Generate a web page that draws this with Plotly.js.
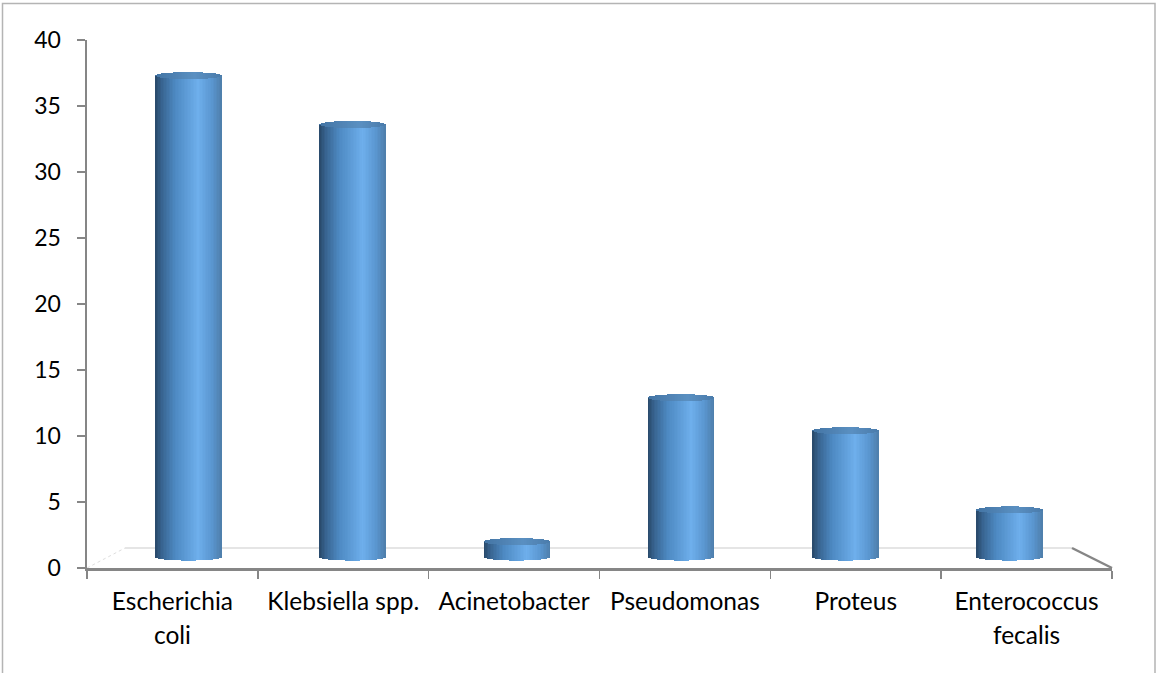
<!DOCTYPE html>
<html>
<head>
<meta charset="utf-8">
<script src="https://cdn.plot.ly/plotly-3.0.1.min.js"></script>
<style>html,body{margin:0;padding:0;background:#fff}#chart{width:1156px;height:673px}</style>
</head>
<body>
<div id="chart"></div>
<script>
// Isolate counts per organism
const categories = ["Escherichia<br>coli", "Klebsiella spp.", "Acinetobacter", "Pseudomonas", "Proteus", "Enterococcus<br>fecalis"];
const values = [37.3, 33.6, 2.0, 12.9, 10.4, 4.4];
const yTicks = [0, 5, 10, 15, 20, 25, 30, 35, 40];

// Category labels: the outer font size sets the line spacing, the span sets the glyph size
const LABEL_SIZE = 24.5;
const labels = categories.map(c =>
  c.split("<br>").map(line => `<span style="font-size:${LABEL_SIZE}px">${line}</span>`).join("<br>"));

// Cylinder geometry, in axis units
const FLOOR = 0.83;        // height of the bar foot on the receding floor
const ELLIPSE = 0.27;      // vertical semi-axis of the end caps
const HALF_WIDTH = 0.195;  // horizontal half width of a cylinder
const SLICES = 44;
// The back plane is narrower than the front axis, so bars drift left of their category
const drift = categories.map((_, i) => 0.093 + 0.9615 * i - i);

// Horizontal shading across the cylinder: position, r, g, b
const shade = [
  [0.00, 40, 72, 104], [0.10, 56, 100, 144], [0.30, 77, 137, 194],
  [0.65, 110, 175, 236], [0.85, 90, 150, 208], [1.00, 78, 126, 170]
];
function shadeAt(t, k) {
  let i = 0;
  while (i < shade.length - 2 && t > shade[i + 1][0]) i++;
  const a = shade[i], b = shade[i + 1], f = (t - a[0]) / (b[0] - a[0]);
  const c = [1, 2, 3].map(j => Math.round((a[j] + (b[j] - a[j]) * f) * k));
  return `rgb(${c[0]},${c[1]},${c[2]})`;
}

const traces = [];
const sliceWidth = 2 * HALF_WIDTH / SLICES;
for (let s = 0; s < SLICES; s++) {
  const t = (s + 0.5) / SLICES, u = 2 * t - 1;
  const sag = ELLIPSE * Math.sqrt(1 - u * u);
  const left = drift.map(d => d - HALF_WIDTH + s * sliceWidth);
  // side wall, curved at both ends
  traces.push({
    type: "bar", x: labels, y: values.map(v => v - FLOOR),
    base: values.map(() => FLOOR - sag),
    width: sliceWidth, offset: left,
    marker: {color: shadeAt(t, 1), line: {width: 0}},
    hoverinfo: "skip", showlegend: false
  });
  // top face of the cylinder
  traces.push({
    type: "bar", x: labels, y: values.map(() => 2 * sag),
    base: values.map(v => v - sag),
    width: sliceWidth, offset: left,
    marker: {color: shadeAt(0.35 + 0.5 * t, 0.82), line: {width: 0}},
    hoverinfo: "skip", showlegend: false
  });
}

// Pixel frame of the plotting area
const W = 1156, H = 673, L = 87, R = 1112, T = 40, B = 568;
const px = x => (x - L) / (R - L);
const py = y => (B - y) / (B - T);

const floorLines = [
  {x0: 125, y0: 548, x1: 1072, y1: 548, color: "#dcdcdc", width: 1.5},
  {x0: 87,  y0: 568, x1: 125,  y1: 548, color: "#dedede", width: 1, dash: "dot"},
  {x0: 1072, y0: 548, x1: 1112, y1: 568, color: "#868686", width: 2.5}
];
const shapes = floorLines.map(l => ({
  type: "line", xref: "paper", yref: "paper", layer: "below",
  x0: px(l.x0), y0: py(l.y0), x1: px(l.x1), y1: py(l.y1),
  line: {color: l.color, width: l.width, dash: l.dash || "solid"}
}));
// Outer chart frame
shapes.push({
  type: "rect", xref: "paper", yref: "paper", layer: "below",
  x0: px(2.5), x1: px(1155), y0: py(3.5), y1: py(H + 5),
  line: {color: "#b4b4b4", width: 1.5}, fillcolor: "rgba(0,0,0,0)"
});

const font = {family: "Lato, Carlito, sans-serif", size: 23, color: "#000"};
const layout = {
  width: W, height: H,
  margin: {l: L, r: W - R, t: T, b: H - B, pad: 0},
  paper_bgcolor: "#fff", plot_bgcolor: "rgba(0,0,0,0)",
  barmode: "overlay", bargap: 0, showlegend: false,
  font: font,
  xaxis: {
    type: "category", range: [-0.5, 5.5], tickson: "boundaries",
    ticks: "outside", ticklen: 8, tickwidth: 1.5, tickcolor: "#868686",
    showline: true, linecolor: "#868686", linewidth: 2.5,
    showgrid: false, zeroline: false, tickangle: 0, automargin: false,
    tickfont: {family: font.family, size: 26, color: "#000"}, ticklabelstandoff: 8
  },
  yaxis: {
    range: [0, 40], tickvals: yTicks, ticktext: yTicks.map(String),
    ticks: "outside", ticklen: 8, tickwidth: 1.5, tickcolor: "#868686",
    showline: true, linecolor: "#868686", linewidth: 2.5,
    showgrid: false, zeroline: false, tickfont: font, automargin: false, ticklabelstandoff: 11
  },
  shapes: shapes
};
Plotly.newPlot("chart", traces, layout, {displayModeBar: false, staticPlot: true});
</script>
</body>
</html>
